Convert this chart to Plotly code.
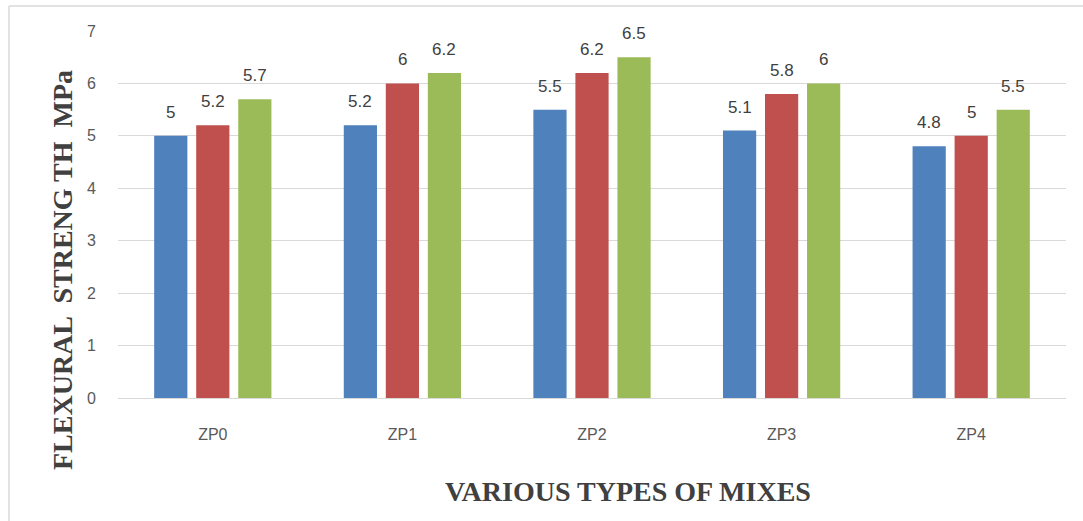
import plotly.graph_objects as go

mixes = ["ZP0", "ZP1", "ZP2", "ZP3", "ZP4"]
series_a = [5.0, 5.2, 5.5, 5.1, 4.8]
series_b = [5.2, 6.0, 6.2, 5.8, 5.0]
series_c = [5.7, 6.2, 6.5, 6.0, 5.5]
y_ticks = [0, 1, 2, 3, 4, 5, 6, 7]

colors = ["#4F81BD", "#C0504D", "#9BBB59"]
all_series = [series_a, series_b, series_c]

W, H = 1083, 521
M = dict(l=118, r=17, t=31, b=123)
plot_w = W - M["l"] - M["r"]
plot_h = H - M["t"] - M["b"]
BARGAP = 0.335
GROUPGAP = 0.21

fig = go.Figure()
for vals, col in zip(all_series, colors):
    fig.add_trace(go.Bar(
        x=mixes, y=vals, marker=dict(color=col, line=dict(width=0)),
        showlegend=False,
    ))

# value labels above each bar, shifted to its slot within the group
cat_px = plot_w / len(mixes)
slot_px = cat_px * (1 - BARGAP) / len(all_series)
annotations = []
for k, vals in enumerate(all_series):
    shift = (k - (len(all_series) - 1) / 2) * slot_px
    for m, v in zip(mixes, vals):
        annotations.append(dict(
            x=m, y=v, xref="x", yref="y", text=f"{v:g}", showarrow=False,
            xshift=shift, yshift=12, yanchor="bottom",
            font=dict(family="Liberation Sans, Arial", size=17, color="#404040"),
        ))

serif = "Liberation Serif, Times New Roman, serif"
annotations.append(dict(
    text="<b>VARIOUS TYPES OF MIXES</b>", xref="paper", yref="paper",
    x=(628 - M["l"]) / plot_w, y=-(491 - (H - M["b"])) / plot_h,
    showarrow=False, xanchor="center", yanchor="middle",
    font=dict(family=serif, size=28, color="#404040"),
))
annotations.append(dict(
    text="<b>FLEXURAL  STRENG TH  MPa</b>", xref="paper", yref="paper",
    x=(62 - M["l"]) / plot_w, y=1 - (270 - M["t"]) / plot_h,
    showarrow=False, xanchor="center", yanchor="middle", textangle=-90,
    font=dict(family=serif, size=28, color="#404040"),
))

# chart frame lines
frame_x = (9 - M["l"]) / plot_w
frame_y = 1 + (M["t"] - 6) / plot_h
shapes = [
    dict(type="line", xref="paper", yref="paper", x0=frame_x, x1=frame_x,
         y0=-1, y1=frame_y, line=dict(color="#D9D9D9", width=1.5)),
    dict(type="line", xref="paper", yref="paper", x0=frame_x, x1=2,
         y0=frame_y, y1=frame_y, line=dict(color="#D9D9D9", width=1.5)),
]

tick_font = dict(family="Liberation Sans, Arial", size=16, color="#595959")
fig.update_layout(
    width=W, height=H, margin=M,
    paper_bgcolor="white", plot_bgcolor="white",
    barmode="group", bargap=BARGAP, bargroupgap=GROUPGAP,
    annotations=annotations, shapes=shapes,
    xaxis=dict(showgrid=False, showline=True, linecolor="#D9D9D9", linewidth=1,
               ticks="", tickfont=tick_font, ticklabelstandoff=22),
    yaxis=dict(range=[0, 7], tickvals=y_ticks, showgrid=True, gridcolor="#D9D9D9",
               gridwidth=1, zeroline=False, showline=False, ticks="",
               tickfont=tick_font, ticklabelstandoff=21),
)

fig.write_html("out.html")
